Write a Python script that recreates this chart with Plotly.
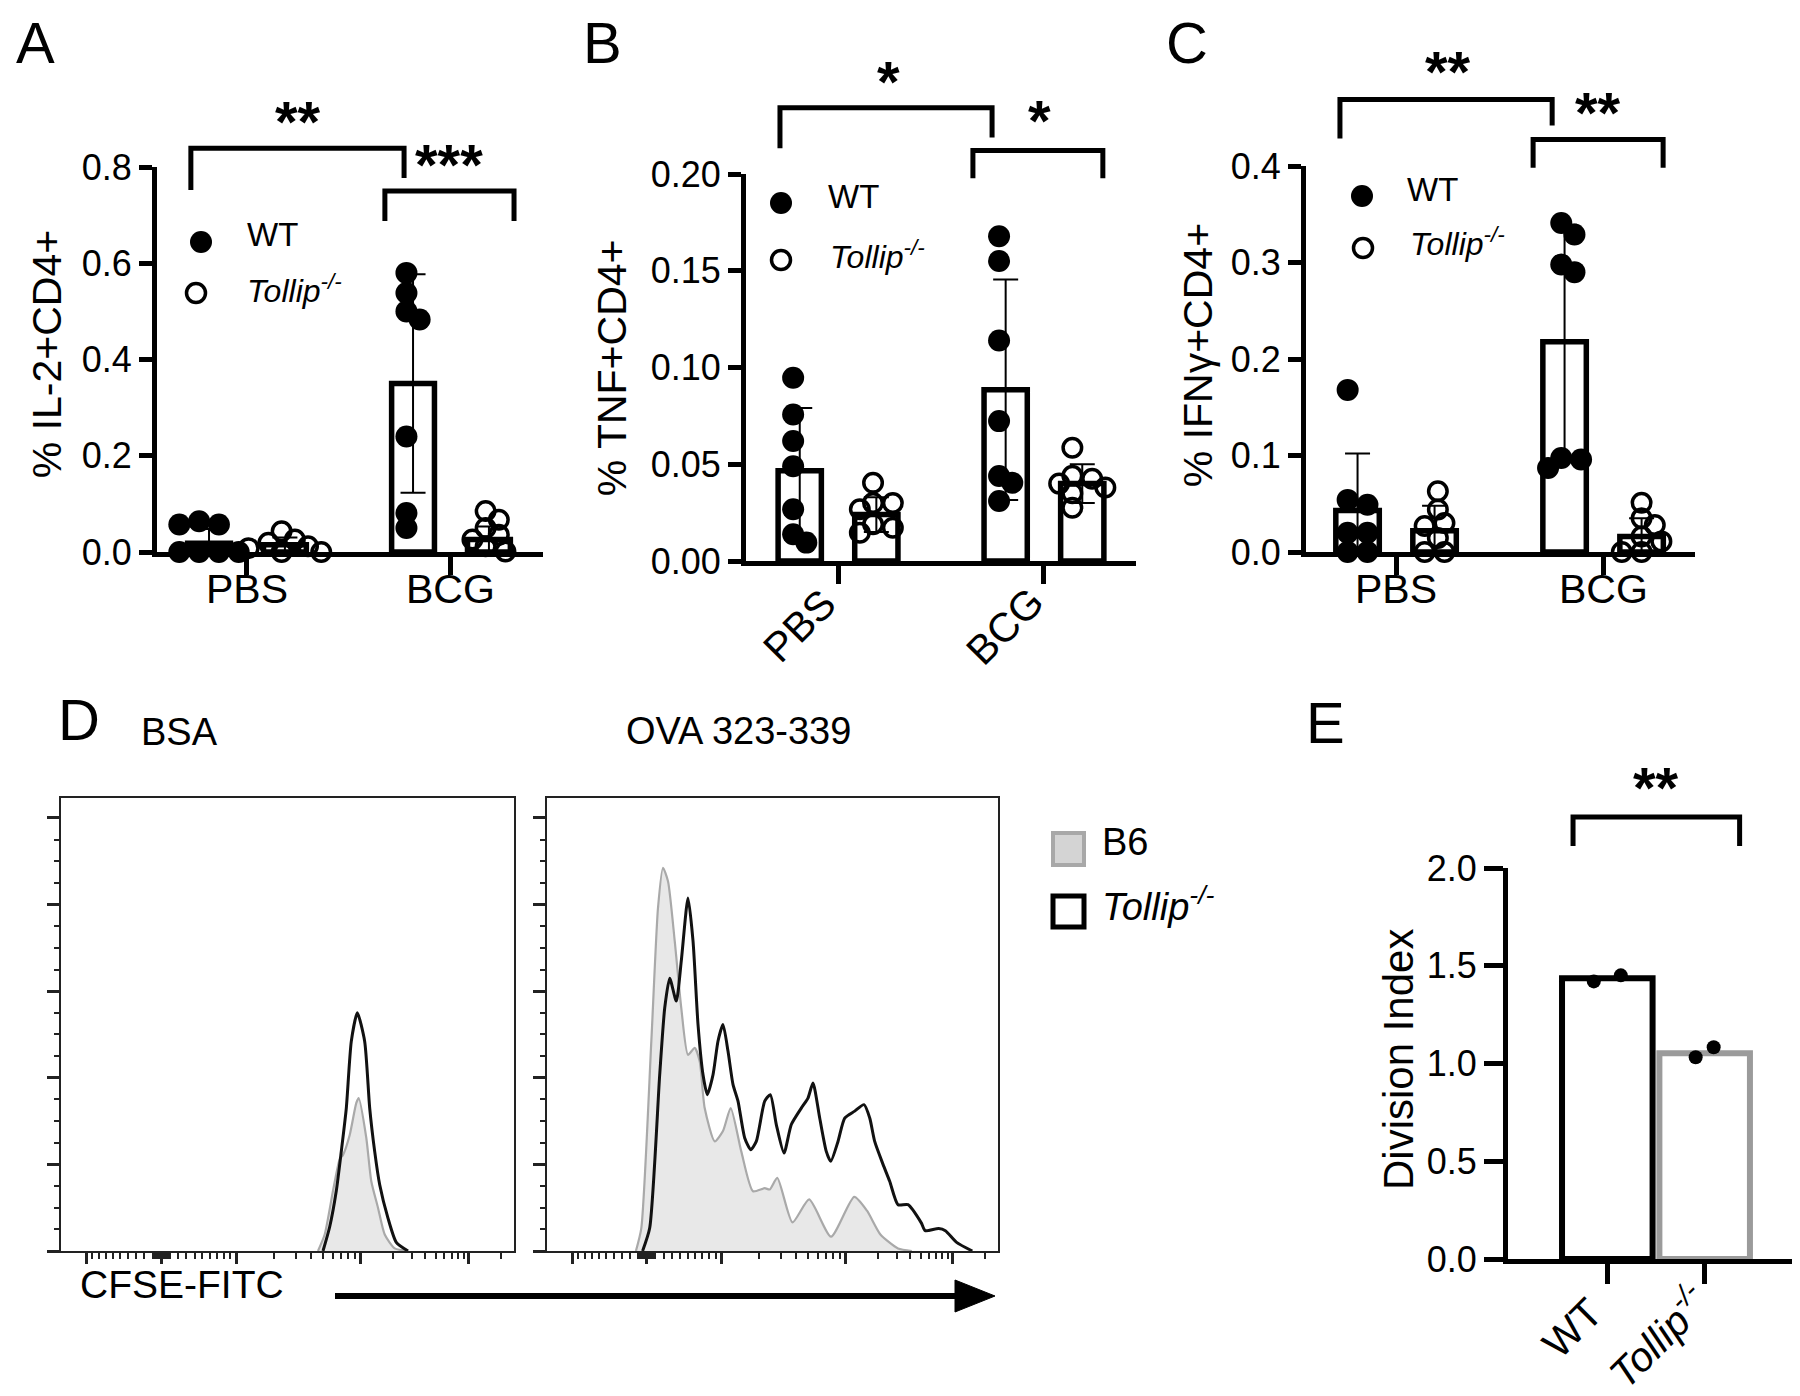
import numpy as np
import plotly.graph_objects as go

W, H = 1800, 1396
FONT = "Liberation Sans, Arial, Helvetica, sans-serif"
KO_HTML = "<i>Tollip<sup>-/-</sup></i>"

# ------------------------------------------------------------------ data
GROUPS = ["PBS", "BCG"]

# Panel A : % IL-2+CD4+   (one list per group: PBS, BCG)
IL2_WT = [[0.064, 0.057, 0.057, 0.0, 0.0, 0.0, 0.0],
          [0.580, 0.538, 0.500, 0.483, 0.240, 0.081, 0.050]]
IL2_WT_MEAN = [0.018, 0.350]
IL2_WT_SD = [0.030, 0.227]
IL2_KO = [[0.043, 0.026, 0.019, 0.012, 0.008, 0.0, 0.0],
          [0.085, 0.067, 0.050, 0.036, 0.026, 0.012, 0.001]]
IL2_KO_MEAN = [0.015, 0.026]
IL2_KO_SD = [0.015, 0.027]

# Panel B : % TNF+CD4+
TNF_WT = [[0.0947, 0.0757, 0.062, 0.049, 0.0267, 0.0138, 0.0095],
          [0.1678, 0.155, 0.114, 0.0723, 0.0439, 0.0404, 0.031]]
TNF_WT_MEAN = [0.0466, 0.0885]
TNF_WT_SD = [0.0325, 0.057]
TNF_KO = [[0.0404, 0.030, 0.030, 0.0267, 0.019, 0.0172, 0.0146],
          [0.0585, 0.044, 0.0425, 0.040, 0.038, 0.035, 0.0275]]
TNF_KO_MEAN = [0.024, 0.040]
TNF_KO_SD = [0.009, 0.010]

# Panel C : % IFNg+CD4+
IFNG_WT = [[0.168, 0.054, 0.049, 0.020, 0.020, 0.0, 0.0],
           [0.341, 0.329, 0.298, 0.290, 0.0975, 0.0958, 0.087]]
IFNG_WT_MEAN = [0.043, 0.218]
IFNG_WT_SD = [0.059, 0.121]
IFNG_KO = [[0.063, 0.044, 0.030, 0.027, 0.0145, 0.0, 0.0],
           [0.051, 0.035, 0.028, 0.016, 0.011, 0.0, 0.0]]
IFNG_KO_MEAN = [0.022, 0.016]
IFNG_KO_SD = [0.026, 0.019]

# Panel D : CFSE histograms (x = display channel 0-1000, y = % of max)
BSA_B6_X = [567.4, 582.2, 600.6, 615.4, 622.7, 637.5, 652.1, 657.4, 674.2, 685.2, 700.0, 714.9, 736.9, 766.4]
BSA_B6_Y = [0, 3.8, 13.9, 21.2, 22.2, 26.8, 34.2, 35.3, 26.1, 16.1, 10.0, 3.8, 0.6, 0]
BSA_KO_X = [578.5, 593.3, 607.9, 618.9, 630.0, 641.0, 654.3, 670.6, 681.7, 692.7, 703.8, 722.1, 740.5, 766.4]
BSA_KO_Y = [0, 5.6, 13.9, 23.0, 33.0, 48.4, 55.0, 48.4, 33.0, 23.0, 15.3, 7.6, 2.0, 0]
OVA_B6_X = [196.6, 208.6, 230.8, 245.6, 256.7, 267.8, 282.7, 297.3, 312.2, 327.1, 338.1, 349.2, 371.4,
            389.8, 406.9, 430.4, 456.4, 482.4, 493.5, 510.3, 544.0, 581.0, 629.5, 681.0, 709.3, 739.1,
            778.1, 808.8]
OVA_B6_Y = [0, 5.3, 48.4, 79.2, 88.5, 85.4, 71.6, 56.1, 45.3, 46.9, 43.8, 33.0, 25.3,
            27.7, 33.0, 23.0, 13.8, 14.5, 14.2, 16.9, 6.6, 11.9, 3.3, 12.5, 9.3, 3.8,
            0.6, 0]
OVA_KO_X = [211.4, 227.2, 249.4, 260.5, 271.6, 286.2, 297.3, 312.2, 323.3, 334.4, 345.5, 355.0, 367.7,
            378.8, 389.8, 401.0, 412.1, 423.1, 438.0, 451.3, 463.7, 482.4, 494.8, 508.1, 525.2, 541.4,
            563.6, 578.4, 589.5, 604.4, 619.0, 628.8, 645.0, 659.9, 682.1, 702.7, 715.4, 726.4, 744.9,
            759.7, 778.1, 800.3, 829.8, 838.5, 868.4, 883.3, 908.2, 943.0]
OVA_KO_Y = [0, 5.3, 40.7, 56.1, 63.0, 57.7, 67.0, 81.5, 71.6, 52.3, 40.7, 36.1, 40.7,
            48.5, 52.3, 46.1, 38.4, 34.6, 26.1, 23.4, 25.3, 34.6, 36.1, 29.2, 22.6, 29.2,
            33.0, 35.3, 38.8, 30.7, 23.0, 20.7, 25.3, 30.7, 32.3, 33.8, 30.7, 25.3, 20.0,
            16.1, 10.7, 10.7, 6.5, 4.7, 5.2, 4.7, 2.0, 0]
CFSE_MAJOR = [-1e3, 0, 1e3, 1e4, 1e5]
CFSE_MINOR = ([-v for v in range(100, 1000, 100)] + [-v for v in range(15, 100, 15)] +
              list(range(15, 100, 15)) + list(range(100, 1000, 100)) +
              [k * 1e3 for k in range(2, 10)] + [k * 1e4 for k in range(2, 10)] + [2e5])
HIST_MAJOR = [0, 20, 40, 60, 80, 100]

# Panel E : division index
DI_GROUPS = ["WT", KO_HTML]
DI_POINTS = [[1.420, 1.451], [1.032, 1.083]]
DI_MEAN = [1.436, 1.052]

# ------------------------------------------------------------------ layout geometry (px)
PANEL = {
    "A": dict(ax="", xd=(149, 535), yd=(159, 544), xr=(-0.441, 1.451), yr=(0, 0.8)),
    "B": dict(ax="2", xd=(738, 1128), yd=(166, 553), xr=(-0.447, 1.447), yr=(0, 0.2)),
    "C": dict(ax="3", xd=(1298, 1687), yd=(158, 544), xr=(-0.435, 1.444), yr=(0, 0.4)),
    "D1": dict(ax="4", xd=(53.3, 505.7), yd=(790, 1243), xr=(0, 1000), yr=(0, 104.6)),
    "D2": dict(ax="5", xd=(539.3, 990), yd=(790, 1243), xr=(0, 1000), yr=(0, 104.6)),
    "E": dict(ax="6", xd=(1500, 1795), yd=(860, 1251), xr=(-1.02, 2.01), yr=(0, 2)),
}
OFF = 0.186      # bar offset from group centre
BAR_W = 0.21
DOT = 22
CAT_SIZE = 41
TICK_SIZE = 36


def ppx(p):
    P = PANEL[p]
    return (P["xd"][1] - P["xd"][0]) / (P["xr"][1] - P["xr"][0])


def ppy(p):
    P = PANEL[p]
    return (P["yd"][1] - P["yd"][0]) / (P["yr"][1] - P["yr"][0])


def px_x(p, x):
    P = PANEL[p]
    return P["xd"][0] + (x - P["xr"][0]) * ppx(p)


def px_y(p, y):
    P = PANEL[p]
    return P["yd"][1] - (y - P["yr"][0]) * ppy(p)


def PX(x):
    return x / W


def PY(y):
    return 1 - y / H


def swarm(vals, sx, sy, d, first=1):
    vals = np.asarray(vals, float)
    order = np.argsort(-vals, kind="stable")
    step, mind = 0.3 * d, 0.65 * d
    cands = [0.0] + [s * first * k * step for k in range(1, 20) for s in (1, -1)]
    placed, offs = [], np.zeros(len(vals))
    for i in order:
        yp = vals[i] * sy
        for c in cands:
            if all((c - a) ** 2 + (yp - b) ** 2 >= mind ** 2 for a, b in placed):
                break
        placed.append((c, yp))
        offs[i] = c
    offs -= (offs.max() + offs.min()) / 2
    return offs / sx


fig = go.Figure()
shapes, anns = [], []


def ann(text, x, y, size, xanchor="center", yanchor="middle", angle=0, yshift=None, bold=False):
    # (x, y) = visual centre of the capital letters; compensate plotly's text box offset
    k = 0.19 * size
    th = np.radians(angle)
    xs = k * np.sin(th)
    ys = k * np.cos(th) if yshift is None else yshift
    anns.append(dict(text=f"<b>{text}</b>" if bold else text, x=PX(x), y=PY(y),
                     xref="paper", yref="paper", showarrow=False,
                     xanchor=xanchor, yanchor=yanchor, textangle=angle, xshift=xs, yshift=ys,
                     font=dict(family=FONT, size=size, color="black")))


def bracket(p, x0, x1, ytop, yl0, yl1):
    a, b = px_x(p, x0), px_x(p, x1)
    t, l0, l1 = px_y(p, ytop), px_y(p, yl0), px_y(p, yl1)
    path = f"M{PX(a)},{PY(l0)} L{PX(a)},{PY(t)} L{PX(b)},{PY(t)} L{PX(b)},{PY(l1)}"
    shapes.append(dict(type="path", path=path, xref="paper", yref="paper",
                       line=dict(color="black", width=5)))


def stars(p, text, x, y):
    ann(text, px_x(p, x), px_y(p, y), 58, yshift=2, bold=True)


def bar_panel(p, wt, wt_m, wt_s, ko, ko_m, ko_s):
    ax = PANEL[p]["ax"]
    xa, ya = "x" + ax, "y" + ax
    for pts, m, s, sgn, filled in ((wt, wt_m, wt_s, -1, True), (ko, ko_m, ko_s, 1, False)):
        fig.add_trace(go.Bar(
            x=[i + sgn * OFF for i in range(len(GROUPS))], y=m, width=BAR_W,
            marker=dict(color="white", line=dict(color="black", width=5.5)),
            error_y=dict(type="data", array=s, visible=True, thickness=2, width=12.5, color="black"),
            xaxis=xa, yaxis=ya, hoverinfo="skip"))
        for i, vals in enumerate(pts):
            offs = swarm(vals, ppx(p), ppy(p), DOT)
            if filled:
                mk = dict(symbol="circle", size=DOT, color="black")
            else:
                mk = dict(symbol="circle-open", size=DOT - 3.5, color="black", line=dict(width=3.5))
            fig.add_trace(go.Scatter(x=i + sgn * OFF + offs, y=vals, mode="markers", marker=mk,
                                     cliponaxis=False, xaxis=xa, yaxis=ya, hoverinfo="skip"))


bar_panel("A", IL2_WT, IL2_WT_MEAN, IL2_WT_SD, IL2_KO, IL2_KO_MEAN, IL2_KO_SD)
bar_panel("B", TNF_WT, TNF_WT_MEAN, TNF_WT_SD, TNF_KO, TNF_KO_MEAN, TNF_KO_SD)
bar_panel("C", IFNG_WT, IFNG_WT_MEAN, IFNG_WT_SD, IFNG_KO, IFNG_KO_MEAN, IFNG_KO_SD)

# histograms
for p, gx, gy, kx, ky in (("D1", BSA_B6_X, BSA_B6_Y, BSA_KO_X, BSA_KO_Y),
                          ("D2", OVA_B6_X, OVA_B6_Y, OVA_KO_X, OVA_KO_Y)):
    ax = PANEL[p]["ax"]
    fig.add_trace(go.Scatter(x=gx, y=gy, mode="lines", fill="tozeroy", fillcolor="#e8e8e8",
                             line=dict(color="#a9a9a9", width=2.2, shape="spline", smoothing=0.6),
                             xaxis="x" + ax, yaxis="y" + ax, hoverinfo="skip"))
    fig.add_trace(go.Scatter(x=kx, y=ky, mode="lines",
                             line=dict(color="#111111", width=3, shape="spline", smoothing=0.6),
                             xaxis="x" + ax, yaxis="y" + ax, hoverinfo="skip"))

# panel E
fig.add_trace(go.Bar(x=list(range(len(DI_GROUPS))), y=DI_MEAN, width=0.93,
                     marker=dict(color="white", line=dict(color=["black", "#9b9b9b"], width=6)),
                     xaxis="x6", yaxis="y6", hoverinfo="skip"))
for i, vals in enumerate(DI_POINTS):
    offs = swarm(vals, ppx("E"), ppy("E"), 30, first=-1)
    fig.add_trace(go.Scatter(x=i + offs, y=vals, mode="markers",
                             marker=dict(size=14, color="black"), cliponaxis=False,
                             xaxis="x6", yaxis="y6", hoverinfo="skip"))


# ------------------------------------------------------------------ axes
def cfse_pos(v):
    a, s = abs(v), np.sign(v)
    if a <= 1e3:
        return 221 + 166 * s * np.arcsinh(a / 1000) / np.arcsinh(1)
    if a <= 1e4:
        return 221 + s * (166 + (np.log10(a) - 3) * 274)
    return 221 + s * (166 + 274 + (np.log10(a) - 4) * 239)


layout_axes = {}
for p, P in PANEL.items():
    xk = "xaxis" + P["ax"]
    yk = "yaxis" + P["ax"]
    xdom = [P["xd"][0] / W, P["xd"][1] / W]
    ydom = [1 - P["yd"][1] / H, 1 - P["yd"][0] / H]
    base = dict(showgrid=False, zeroline=False, automargin=False, fixedrange=True)
    if p in ("A", "B", "C", "E"):
        cats = GROUPS if p != "E" else DI_GROUPS
        xa = dict(base, domain=xdom, range=list(P["xr"]), anchor="y" + P["ax"],
                  showline=True, linewidth=5, linecolor="black",
                  ticks="outside", ticklen=18 if p != "E" else 20, tickwidth=4.5, tickcolor="black",
                  tickmode="array", tickvals=list(range(len(cats))), showticklabels=False)
        step = {"A": 0.2, "B": 0.05, "C": 0.1, "E": 0.5}[p]
        n = int(round((P["yr"][1] - P["yr"][0]) / step))
        ya = dict(base, domain=ydom, range=list(P["yr"]), anchor="x" + P["ax"],
                  showline=True, linewidth=5, linecolor="black",
                  ticks="outside", ticklen=13 if p != "E" else 19, tickwidth=4.5, tickcolor="black",
                  tickmode="array", tickvals=[round(k * step, 3) for k in range(n + 1)],
                  tickformat=".2f" if p == "B" else ".1f",
                  tickfont=dict(family=FONT, size=TICK_SIZE, color="black"))
    else:
        xa = dict(base, domain=xdom, range=list(P["xr"]), anchor="y" + P["ax"],
                  showline=True, mirror=True, linewidth=1.6, linecolor="#222222",
                  ticks="outside", ticklen=11, tickwidth=2.5, tickcolor="#222222",
                  tickmode="array", tickvals=[cfse_pos(v) for v in CFSE_MAJOR], showticklabels=False,
                  minor=dict(tickmode="array", tickvals=[cfse_pos(v) for v in CFSE_MINOR],
                             ticks="outside", ticklen=6, tickwidth=1.5, tickcolor="#222222"))
        ya = dict(base, domain=ydom, range=list(P["yr"]), anchor="x" + P["ax"],
                  showline=True, mirror=True, linewidth=1.6, linecolor="#222222",
                  ticks="outside", ticklen=13, tickwidth=3, tickcolor="#222222",
                  tickmode="array", tickvals=HIST_MAJOR, showticklabels=False,
                  minor=dict(tickmode="array",
                             tickvals=[v for v in range(5, 101, 5) if v % 20],
                             ticks="outside", ticklen=6, tickwidth=1.5, tickcolor="#222222"))
    layout_axes[xk] = xa
    layout_axes[yk] = ya

# category labels
for p in ("A", "C"):
    for i, g in enumerate(GROUPS):
        ann(g, px_x(p, i), 589, CAT_SIZE)
for i, g in enumerate(GROUPS):
    ann(g, px_x("B", i) - 33, 624, CAT_SIZE, angle=-45)
ann(DI_GROUPS[0], px_x("E", 0) - 29, 1326, CAT_SIZE, angle=-45)
ann(DI_GROUPS[1], px_x("E", 1) - 42, 1334, CAT_SIZE, angle=-45)

# ------------------------------------------------------------------ brackets & stars
bracket("A", -0.275, 0.770, 0.839, 0.752, 0.777)
bracket("A", 0.676, 1.309, 0.750, 0.688, 0.688)
stars("A", "**", 0.25, 0.891)
stars("A", "***", 0.99, 0.802)
bracket("B", -0.282, 0.748, 0.2343, 0.2133, 0.2189)
bracket("B", 0.655, 1.286, 0.2122, 0.1978, 0.1978)
stars("B", "*", 0.243, 0.2469)
stars("B", "*", 0.976, 0.2264)
bracket("C", -0.271, 0.754, 0.4689, 0.4284, 0.4419)
bracket("C", 0.662, 1.290, 0.4274, 0.3983, 0.3983)
stars("C", "**", 0.251, 0.4959)
stars("C", "**", 0.976, 0.4533)
bracket("E", -0.352, 1.359, 2.261, 2.113, 2.113)
stars("E", "**", 0.5, 2.399)


# ------------------------------------------------------------------ in-panel legends
def legend_dot(cx, cy, filled):
    r = 11 if filled else 9.5
    shapes.append(dict(type="circle", xref="paper", yref="paper",
                       x0=PX(cx - r), x1=PX(cx + r), y0=PY(cy + r), y1=PY(cy - r),
                       fillcolor="black" if filled else "white",
                       line=dict(color="black", width=0 if filled else 3.5)))


for (fx, fy, tx, ty), (ox, oy, ux, uy) in (((193, 234, 237, 233), (188, 285, 237, 287)),
                                         ((773, 195, 818, 195), (773, 252, 820, 253)),
                                         ((1354, 188, 1397, 188), (1355, 240, 1400, 240))):
    legend_dot(fx, fy, True)
    ann("WT", tx, ty, 33, xanchor="left")
    legend_dot(ox, oy, False)
    ann(KO_HTML, ux, uy, 32, xanchor="left")

# axis titles
ann("% IL-2+CD4+", 47, 346, 41, angle=-90)
ann("% TNF+CD4+", 612, 360, 41, angle=-90)
ann("% IFNγ+CD4+", 1198, 347, 41, angle=-90)
ann("Division Index", 1398, 1052, 42, angle=-90)

# panel letters (top row anchored to the top edge)
for t, x in (("A", 27.5), ("B", 594.5), ("C", 1179)):
    anns.append(dict(text=t, x=PX(x), y=1, xref="paper", yref="paper", showarrow=False,
                     xanchor="center", yanchor="top", font=dict(family=FONT, size=58, color="black")))
for t, x, y in (("D", 71, 723), ("E", 1317.5, 726)):
    ann(t, x, y, 58)

# panel D texts, legend and arrow
ann("BSA", 171.5, 731, 38)
ann("OVA 323-339", 730, 730, 38)
ann("CFSE-FITC", 70, 1284, 39, xanchor="left")
shapes.append(dict(type="rect", xref="paper", yref="paper", x0=PX(1045), x1=PX(1076),
                   y0=PY(857), y1=PY(825), fillcolor="#d4d4d4", line=dict(color="#a8a8a8", width=4)))
shapes.append(dict(type="rect", xref="paper", yref="paper", x0=PX(1045), x1=PX(1076),
                   y0=PY(919), y1=PY(888), fillcolor="white", line=dict(color="black", width=5)))
ann("B6", 1092, 841, 38, xanchor="left")
ann(KO_HTML, 1092, 903, 38, xanchor="left")
shapes.append(dict(type="line", xref="paper", yref="paper", x0=PX(327), x1=PX(952),
                   y0=PY(1288), y1=PY(1288), line=dict(color="black", width=6)))
shapes.append(dict(type="path", xref="paper", yref="paper",
                   path=f"M{PX(947)},{PY(1272)} L{PX(987)},{PY(1288)} L{PX(947)},{PY(1304)} Z",
                   fillcolor="black", line=dict(color="black", width=1)))

fig.update_layout(
    template="none", width=W, height=H, margin=dict(l=0, r=0, t=0, b=0),
    paper_bgcolor="white", plot_bgcolor="white", showlegend=False, barmode="overlay",
    font=dict(family=FONT, color="black"), shapes=shapes, annotations=anns, **layout_axes)

fig.write_html("out.html")
